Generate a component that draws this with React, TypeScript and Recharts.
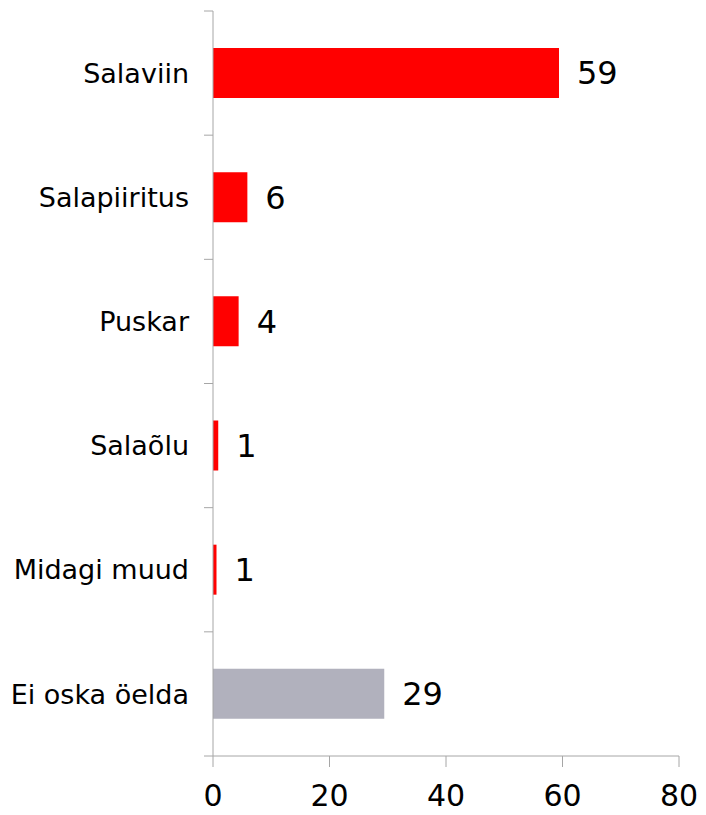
import React from "react";
import {
  BarChart,
  Bar,
  XAxis,
  YAxis,
  Cell,
  LabelList,
} from "recharts";

const categories = [
  "Salaviin",
  "Salapiiritus",
  "Puskar",
  "Salaõlu",
  "Midagi muud",
  "Ei oska öelda",
];
const shares = [59.4, 5.9, 4.4, 0.9, 0.6, 29.4];
const barColors = ["#FF0000", "#FF0000", "#FF0000", "#FF0000", "#FF0000", "#B1B1BD"];
const xTicks = [0, 20, 40, 60, 80];

const data = categories.map((name, i) => ({ name, value: shares[i] }));

const FONT = "'DejaVu Sans', Verdana, sans-serif";
const AXIS = "#A6A6A6";
const LABEL_GAP = 24;
const BAND_TICK = 9;

// category label plus a short tick on the band boundary (above, and below for the last one)
const CategoryTick = (props: any) => {
  const { x, y, payload, index, visibleTicksCount } = props;
  const half = payload?.offset || 0;
  const edge = x + LABEL_GAP;
  const last = index === visibleTicksCount - 1;
  return (
    <g>
      <text
        x={x}
        y={y}
        dy="0.355em"
        textAnchor="end"
        fill="#000"
        fontSize={27}
        fontFamily={FONT}
      >
        {payload.value}
      </text>
      {half > 0 && (
        <line x1={edge - BAND_TICK} x2={edge} y1={y - half} y2={y - half} stroke={AXIS} />
      )}
      {half > 0 && last && (
        <line x1={edge - BAND_TICK} x2={edge} y1={y + half} y2={y + half} stroke={AXIS} />
      )}
    </g>
  );
};

export default function App() {
  return (
    <div style={{ fontFamily: FONT }}>
      <BarChart
        width={690}
        height={807}
        data={data}
        layout="vertical"
        margin={{ top: 3, right: 19, bottom: 0, left: 0 }}
      >
        <YAxis
          type="category"
          dataKey="name"
          width={205}
          axisLine={{ stroke: AXIS }}
          tickLine={false}
          tickSize={0}
          tickMargin={LABEL_GAP}
          interval={0}
          tick={<CategoryTick />}
        />
        <XAxis
          type="number"
          domain={[0, 80]}
          ticks={xTicks}
          height={59}
          axisLine={{ stroke: AXIS }}
          tickLine={{ stroke: AXIS }}
          tickSize={11}
          tickMargin={18}
          tick={{ fill: "#000", fontSize: 30, fontFamily: FONT }}
        />
        <Bar dataKey="value" barSize={50} isAnimationActive={false}>
          {data.map((d, i) => (
            <Cell key={d.name} fill={barColors[i]} />
          ))}
          <LabelList
            dataKey="value"
            position="right"
            offset={18}
            fill="#000"
            fontSize={32}
            fontFamily={FONT}
            formatter={(v: any) => Math.round(Number(v))}
          />
        </Bar>
      </BarChart>
    </div>
  );
}
